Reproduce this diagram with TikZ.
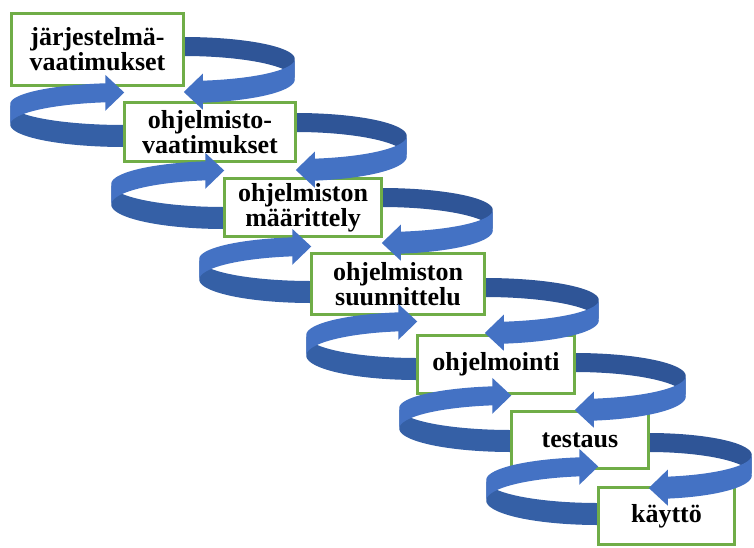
\documentclass[tikz,border=0pt]{standalone}
\usepackage{fontspec}
\setmainfont{Liberation Serif}

\definecolor{ribbonlight}{HTML}{4472C4}
\definecolor{ribbondark}{HTML}{2F5597}
\definecolor{ribbonmid}{HTML}{3560A6}
\definecolor{boxgreen}{HTML}{70AD47}

\pgfdeclarelayer{ribbonback}
\pgfdeclarelayer{ribbonfront}
\pgfsetlayers{ribbonback,main,ribbonfront}

\newdimen\ribx

\tikzset{
  phase/.style={draw=boxgreen, line width=2.6pt, fill=white, inner sep=0pt,
    outer sep=0pt, align=center, font=\bfseries\fontsize{26}{25}\selectfont},
}

% strip of the ribbon between angles #6 and #7 on the ellipse centred at (#2,#3)
% with radii #4 (x) and #5 (y); the strip gets slightly wider towards the viewer
\newcommand\ribbonpart[7]{%
  \fill[#1] plot[domain=#6:#7, samples=40, variable=\t]
      ({#2+#4*cos(\t)}, {#3-#5*sin(\t)})
    -- plot[domain=#7:#6, samples=40, variable=\t]
      ({#2+#4*cos(\t)}, {#3-#5*sin(\t)+20.5-1.5*sin(\t)})
    -- cycle;}

% loop leaving phase #1 on the right and pointing back to the next phase
% #2 centre y, #3 radius y, #4 radius x
\newcommand\downloop[4]{%
  \pgfextractx{\ribx}{\pgfpointanchor{#1}{east}}%
  \pgfmathsetmacro\rcx{\ribx}%
  \pgfmathsetmacro\rtb{-acos(19/#4)}%
  \pgfmathsetmacro\rte{\rtb-1}%
  \pgfmathsetmacro\rxb{\rcx+19}%
  \pgfmathsetmacro\ryc{#2-#3*sin(\rtb)+(20.5-1.5*sin(\rtb))/2}%
  \pgfmathsetmacro\rytip{#2+#3+11}%
  \begin{pgfonlayer}{ribbonback}
    \ribbonpart{ribbondark}{\rcx}{#2}{#4}{#3}{100}{-2}
  \end{pgfonlayer}
  \begin{pgfonlayer}{ribbonfront}
    \ribbonpart{ribbonlight}{\rcx}{#2}{#4}{#3}{2}{\rte}
    \fill[ribbonlight] (\rxb,\ryc-18) -- (\rcx,\rytip) -- (\rxb,\ryc+18) -- cycle;
  \end{pgfonlayer}}

% loop leaving phase #1 on the left and pointing back to the previous phase
\newcommand\uploop[4]{%
  \pgfextractx{\ribx}{\pgfpointanchor{#1}{west}}%
  \pgfmathsetmacro\rcx{\ribx}%
  \pgfmathsetmacro\rtb{acos(-19/#4)}%
  \pgfmathsetmacro\rte{\rtb-1}%
  \pgfmathsetmacro\rxb{\rcx-19}%
  \pgfmathsetmacro\ryc{#2-#3*sin(\rtb)+(20.5-1.5*sin(\rtb))/2}%
  \pgfmathsetmacro\rytip{#2-#3+9.5}%
  \begin{pgfonlayer}{ribbonback}
    \ribbonpart{ribbonmid}{\rcx}{#2}{#4}{#3}{178}{275}
  \end{pgfonlayer}
  \begin{pgfonlayer}{ribbonfront}
    \ribbonpart{ribbonlight}{\rcx}{#2}{#4}{#3}{\rte}{182}
    \fill[ribbonlight] (\rxb,\ryc-18) -- (\rcx,\rytip) -- (\rxb,\ryc+18) -- cycle;
  \end{pgfonlayer}}

\begin{document}
\begin{tikzpicture}[x=1pt, y=-1pt]
  \useasboundingbox (0,0) rectangle (754,547);

  % the phases
  \node[phase, minimum width=172.5, minimum height=72.5] (b1) at (97.5,49.5)
    {järjestelmä-\\vaatimukset};
  \node[phase, minimum width=171.5, minimum height=59.5] (b2) at (210,132)
    {ohjelmisto-\\vaatimukset};
  \node[phase, minimum width=157.5, minimum height=58.5] (b3) at (303,207.5)
    {ohjelmiston\\määrittely};
  \node[phase, minimum width=173.5, minimum height=61.5] (b4) at (398,284)
    {ohjelmiston\\suunnittelu};
  \node[phase, minimum width=157.5, minimum height=58.5] (b5) at (496,364.5)
    {ohjelmointi};
  \node[phase, minimum width=137.5, minimum height=57.5] (b6) at (580,440)
    {testaus};
  \node[phase, minimum width=136.5, minimum height=57.5] (b7) at (666.5,516)
    {käyttö};

  % loops down the right side
  \downloop{b1}{59}{22}{111}
  \downloop{b2}{136}{23}{111}
  \downloop{b3}{210}{22}{111}
  \downloop{b4}{300}{22}{114}
  \downloop{b5}{376}{23}{111}
  \downloop{b6}{455}{22}{103}

  % loops back up the left side
  \uploop{b2}{104}{21}{114}
  \uploop{b3}{184}{23}{113}
  \uploop{b4}{259}{22}{112}
  \uploop{b5}{335}{23}{111}
  \uploop{b6}{408}{22}{112}
  \uploop{b7}{480}{23}{112}
\end{tikzpicture}
\end{document}
